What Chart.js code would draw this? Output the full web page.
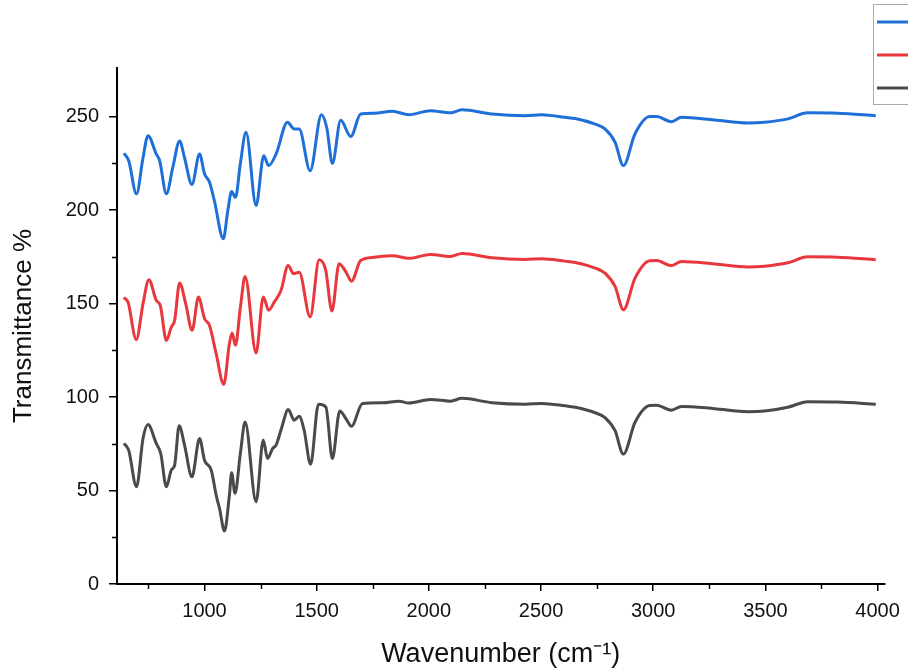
<!DOCTYPE html>
<html>
<head>
<meta charset="utf-8">
<script src="https://cdn.jsdelivr.net/npm/chart.js@4/dist/chart.umd.min.js"></script>
<style>
  html, body { margin: 0; padding: 0; background: #fff; overflow: hidden; }
</style>
</head>
<body>
<canvas id="ftir" width="908" height="671"></canvas>
<script>
// FTIR spectra
const blueX = [641, 662, 697, 726, 748, 785, 800, 830, 859, 889, 911, 944, 978, 1000, 1022, 1044, 1084, 1104, 1121, 1138, 1160, 1185, 1230, 1264, 1286, 1319, 1370, 1400, 1422, 1471, 1521, 1545, 1570, 1607, 1652, 1696, 1756, 1837, 1911, 2007, 2096, 2148, 2281, 2430, 2504, 2607, 2652, 2741, 2785, 2830, 2867, 2919, 2985, 3015, 3081, 3126, 3274, 3422, 3496, 3600, 3689, 3822, 3992];
const blueY = [230.4, 226.5, 208.7, 228, 239.8, 230, 226.5, 208.7, 223, 237, 228, 213.7, 230, 219.4, 215, 205, 184.7, 199.8, 210, 206.8, 225, 241.6, 202.5, 229, 223.8, 230, 247, 243.4, 243.4, 221, 251, 244, 225, 248, 239.3, 251.4, 251.8, 252.8, 251, 253.2, 252, 253.7, 251.4, 250.5, 251, 249.6, 249, 246, 243.4, 236.3, 223.8, 240.8, 250, 250, 247.3, 249.6, 248.2, 246.6, 247, 248.8, 252, 251.8, 250.5];

const redX = [640, 659, 696, 726, 752, 785, 803, 830, 852, 867, 889, 916, 945, 973, 1000, 1022, 1052, 1086, 1111, 1123, 1138, 1160, 1181, 1230, 1262, 1286, 1311, 1341, 1373, 1397, 1422, 1471, 1511, 1540, 1568, 1600, 1630, 1655, 1696, 1756, 1837, 1911, 2007, 2096, 2148, 2281, 2430, 2504, 2607, 2652, 2741, 2785, 2830, 2867, 2919, 2985, 3015, 3081, 3126, 3274, 3422, 3496, 3600, 3689, 3822, 3992];
const redY = [153.2, 150.8, 130.7, 150, 162.8, 151.7, 149, 130.3, 137.4, 141, 161, 150, 135.7, 153.5, 142, 138.4, 123.2, 106.8, 128.6, 134.2, 127.7, 148, 164.5, 123.6, 153.5, 146.4, 150.8, 157, 170.4, 166, 166.8, 142.8, 173.5, 168, 146, 171.3, 167, 162, 173, 174.8, 175.6, 174.2, 176.3, 175.2, 176.8, 174.5, 173.6, 174, 172.7, 172, 169, 166.3, 159.2, 146.7, 163.6, 172.9, 173, 170.3, 172.5, 171.2, 169.6, 170, 171.8, 175, 174.8, 173.5];

const blackX = [641, 662, 697, 726, 748, 785, 805, 830, 852, 867, 887, 911, 944, 978, 1000, 1030, 1052, 1067, 1089, 1111, 1121, 1136, 1160, 1181, 1230, 1262, 1281, 1304, 1319, 1345, 1373, 1400, 1422, 1444, 1473, 1508, 1541, 1570, 1603, 1630, 1655, 1704, 1793, 1867, 1911, 2007, 2096, 2148, 2281, 2430, 2504, 2607, 2652, 2741, 2785, 2830, 2867, 2919, 2985, 3015, 3081, 3126, 3274, 3422, 3496, 3600, 3689, 3822, 3992];
const blackY = [75.2, 71.6, 52, 77.8, 85.3, 75.2, 69.8, 52, 60.9, 63.6, 84.6, 74.3, 57.3, 77.8, 66.2, 60.9, 47.5, 40.4, 28.3, 47.5, 59.5, 48.5, 70, 86.7, 44, 77, 67.1, 72.5, 74.3, 84, 93.3, 87.6, 89.7, 82.3, 64.1, 96.2, 94.7, 67.1, 92.6, 88.5, 84.4, 96.5, 96.9, 97.8, 96.8, 98.7, 97.8, 99.3, 97, 96.2, 96.6, 95.3, 94.5, 91.6, 89, 82, 69.5, 86.5, 95.5, 95.6, 93, 95, 93.8, 92.2, 92.5, 94.5, 97.5, 97.3, 96.2];

const xMajor = [1000, 1500, 2000, 2500, 3000, 3500, 4000];
const xMinor = [750, 1250, 1750, 2250, 2750, 3250, 3750];
const yMajor = [0, 50, 100, 150, 200, 250];
const yMinor = [25, 75, 125, 175, 225];

const toPoints = (xs, ys) => xs.map((x, i) => ({ x: x, y: ys[i] }));

const FONT = 'Arial, "Liberation Sans", sans-serif';

// short ticks between the labelled ones
const minorTicks = {
  id: 'minorTicks',
  afterDraw(chart) {
    const ctx = chart.ctx;
    const xs = chart.scales.x, ys = chart.scales.y;
    const area = chart.chartArea;
    ctx.save();
    ctx.strokeStyle = '#000';
    ctx.lineWidth = 1.5;
    ctx.beginPath();
    xMinor.forEach(v => {
      const px = Math.round(xs.getPixelForValue(v)) + 0.5;
      ctx.moveTo(px, area.bottom);
      ctx.lineTo(px, area.bottom + 5);
    });
    yMinor.forEach(v => {
      const py = Math.round(ys.getPixelForValue(v)) + 0.5;
      ctx.moveTo(area.left, py);
      ctx.lineTo(area.left - 5, py);
    });
    ctx.stroke();
    ctx.restore();
  }
};

// legend box, cut off at the right edge like the reference
const cutLegend = {
  id: 'cutLegend',
  afterDraw(chart) {
    const ctx = chart.ctx;
    ctx.save();
    ctx.strokeStyle = '#a8a8a8';
    ctx.lineWidth = 1;
    ctx.strokeRect(873.5, 4.5, 60, 100);
    chart.data.datasets.forEach((ds, i) => {
      const y = 22 + i * 33;
      ctx.strokeStyle = ds.borderColor;
      ctx.lineWidth = 3;
      ctx.beginPath();
      ctx.moveTo(877, y);
      ctx.lineTo(908, y);
      ctx.stroke();
    });
    ctx.restore();
  }
};

new Chart(document.getElementById('ftir'), {
  type: 'line',
  data: {
    datasets: [
      { label: 'Blue', data: toPoints(blueX, blueY), borderColor: '#1f6fd8' },
      { label: 'Red', data: toPoints(redX, redY), borderColor: '#e8383d' },
      { label: 'Black', data: toPoints(blackX, blackY), borderColor: '#4a4a4a' }
    ]
  },
  options: {
    responsive: false,
    animation: false,
    parsing: false,
    layout: { padding: { top: 68, right: 22, left: 0, bottom: 0 } },
    elements: {
      point: { radius: 0 },
      line: { borderWidth: 3, cubicInterpolationMode: 'monotone', fill: false }
    },
    plugins: {
      legend: { display: false },
      tooltip: { enabled: false }
    },
    scales: {
      x: {
        type: 'linear',
        min: 610,
        max: 4030,
        afterBuildTicks: s => { s.ticks = xMajor.map(v => ({ value: v })); },
        afterFit: s => { s.height = 87; },
        border: { color: '#000', width: 2 },
        grid: { drawOnChartArea: false, tickLength: 7, color: '#000', lineWidth: 1.5 },
        ticks: {
          color: '#111',
          font: { family: FONT, size: 20 },
          padding: 8,
          maxRotation: 0,
          callback: v => String(v)
        },
        title: {
          display: true,
          text: 'Wavenumber (cm\u207B\u00B9)',
          color: '#111',
          font: { family: FONT, size: 27 },
          padding: { top: 0, bottom: 0 }
        }
      },
      y: {
        type: 'linear',
        min: 0,
        max: 276,
        afterBuildTicks: s => { s.ticks = yMajor.map(v => ({ value: v })); },
        afterFit: s => { s.width = 117; },
        border: { color: '#000', width: 2 },
        grid: { drawOnChartArea: false, tickLength: 8, color: '#000', lineWidth: 1.5 },
        ticks: {
          color: '#111',
          font: { family: FONT, size: 20 },
          padding: 10,
          callback: v => String(v)
        },
        title: {
          display: true,
          text: 'Transmittance %',
          color: '#111',
          font: { family: FONT, size: 26 },
          padding: { top: 8, bottom: 0 }
        }
      }
    }
  },
  plugins: [minorTicks, cutLegend]
});
</script>
</body>
</html>
